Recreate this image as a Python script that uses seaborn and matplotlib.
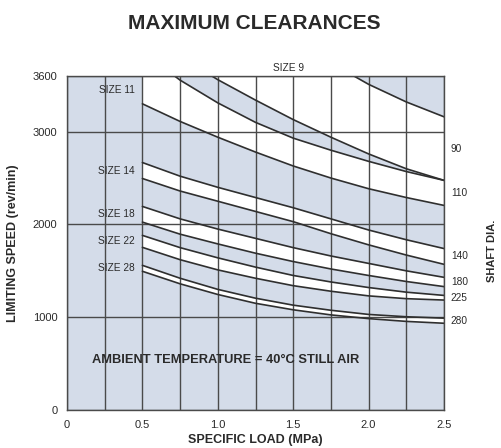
import numpy as np
import pandas as pd
import matplotlib
matplotlib.use("Agg")
import matplotlib.pyplot as plt
import seaborn as sns

# Specific load (MPa) at which each limiting-speed curve is read
load = [0.5, 0.75, 1.0, 1.25, 1.5, 1.75, 2.0, 2.25, 2.5]

# Upper / lower limiting-speed boundaries (rev/min) of each bearing size band
size9_upper = [5100, 4750, 4450, 4220, 3980, 3740, 3510, 3320, 3160]
size9_lower = [4100, 3810, 3560, 3340, 3130, 2940, 2760, 2600, 2475]
size11_upper = [3860, 3555, 3310, 3100, 2930, 2800, 2680, 2570, 2475]
size11_lower = [3300, 3110, 2940, 2780, 2630, 2500, 2385, 2290, 2205]
size14_upper = [2667, 2520, 2400, 2290, 2180, 2060, 1940, 1835, 1740]
size14_lower = [2495, 2360, 2250, 2140, 2030, 1900, 1780, 1670, 1570]
size18_upper = [2194, 2060, 1950, 1850, 1750, 1660, 1580, 1500, 1430]
size18_lower = [2025, 1895, 1790, 1690, 1600, 1520, 1450, 1385, 1330]
size22_upper = [1882, 1750, 1640, 1540, 1450, 1380, 1320, 1270, 1235]
size22_lower = [1753, 1620, 1510, 1420, 1340, 1280, 1230, 1200, 1185]
size28_upper = [1559, 1420, 1300, 1205, 1130, 1075, 1030, 1005, 990]
size28_lower = [1495, 1360, 1245, 1150, 1080, 1025, 985, 955, 935]

size_names = ["SIZE 9", "SIZE 11", "SIZE 14", "SIZE 18", "SIZE 22", "SIZE 28"]
shaft_dia = ["90", "110", "140", "180", "225", "280"]

y_ticks = [0, 1000, 2000, 3000, 3600]
x_ticks = [0, 0.5, 1.0, 1.5, 2.0, 2.5]
x_tick_labels = ["0", "0.5", "1.0", "1.5", "2.0", "2.5"]
x_grid_minor = [0.25, 0.75, 1.25, 1.75, 2.25]

bands = [
    (size9_upper, size9_lower),
    (size11_upper, size11_lower),
    (size14_upper, size14_lower),
    (size18_upper, size18_lower),
    (size22_upper, size22_lower),
    (size28_upper, size28_lower),
]

rows = []
for name, (up, lo) in zip(size_names, bands):
    for x, u, l in zip(load, up, lo):
        rows.append({"load": x, "speed": u, "curve": name + " upper"})
        rows.append({"load": x, "speed": l, "curve": name + " lower"})
curves = pd.DataFrame(rows)

sns.set_theme(style="white")
plt.rcParams["font.family"] = ["Liberation Sans", "DejaVu Sans"]

INK = "#2a2a2a"
GRID = "#4a4a4a"
SHADE = "#d4dce9"

fig = plt.figure(figsize=(5.02, 4.48), dpi=100)
ax = fig.add_axes([0.1335, 0.0848, 0.751, 0.7456])
ax.set_facecolor(SHADE)

# white band for every size between its two boundary curves
for up, lo in bands:
    ax.fill_between(load, lo, up, color="white", lw=0, zorder=1)

sns.lineplot(data=curves, x="load", y="speed", units="curve", estimator=None,
             sort=False, color="#2f2f2f", lw=1.2, ax=ax, legend=False, zorder=3)

ax.set_xlim(0, 2.5)
ax.set_ylim(0, 3600)
ax.set_xticks(x_ticks)
ax.set_xticklabels(x_tick_labels)
ax.set_xticks(x_grid_minor, minor=True)
ax.set_yticks(y_ticks)
ax.set_yticklabels([str(v) for v in y_ticks])
ax.tick_params(axis="both", which="major", length=4, width=0.9, color=GRID,
               labelsize=8, labelcolor=INK, direction="out", pad=3)
ax.tick_params(axis="x", which="minor", length=0)
ax.grid(True, axis="x", which="both", color=GRID, lw=1.0, zorder=2)
ax.grid(True, axis="y", which="major", color=GRID, lw=1.0, zorder=2)
ax.set_axisbelow(False)
for side in ["left", "right", "top", "bottom"]:
    ax.spines[side].set_visible(True)
    ax.spines[side].set_color(GRID)
    ax.spines[side].set_linewidth(1.0)
    ax.spines[side].set_zorder(4)

ax.set_xlabel("SPECIFIC LOAD (MPa)", fontsize=9, fontweight="bold", color=INK, labelpad=3)
ax.set_ylabel("LIMITING SPEED (rev/min)", fontsize=9, fontweight="bold", color=INK, labelpad=10)

fig.text(0.507, 0.948, "MAXIMUM CLEARANCES", ha="center", va="center",
         fontsize=15, fontweight="bold", color=INK)

# size labels at the left end of each band
for name, (up, lo) in zip(size_names[1:], bands[1:]):
    mid = (min(up[0], 3600) + lo[0]) / 2
    ax.text(0.33, mid, name, ha="center", va="center", fontsize=7.3,
            color=INK, zorder=5)
ax.text(1.47, 3630, size_names[0], ha="center", va="bottom", fontsize=7.3,
        color=INK, clip_on=False)

# shaft diameter at the right end of each band
for dia, (up, lo) in zip(shaft_dia, bands):
    mid = (up[-1] + lo[-1]) / 2
    ax.text(2.545, mid, dia, ha="left", va="center", fontsize=7.3,
            color=INK, clip_on=False)
ax.text(2.82, 1720, "SHAFT DIA.", rotation=90, ha="center", va="center",
        fontsize=8, fontweight="bold", color=INK, clip_on=False)

ax.text(1.05, 540, "AMBIENT TEMPERATURE = 40\u00b0C STILL AIR", ha="center",
        va="center", fontsize=9.3, fontweight="bold", color=INK, zorder=5)

fig.savefig("out.png", dpi=100)
